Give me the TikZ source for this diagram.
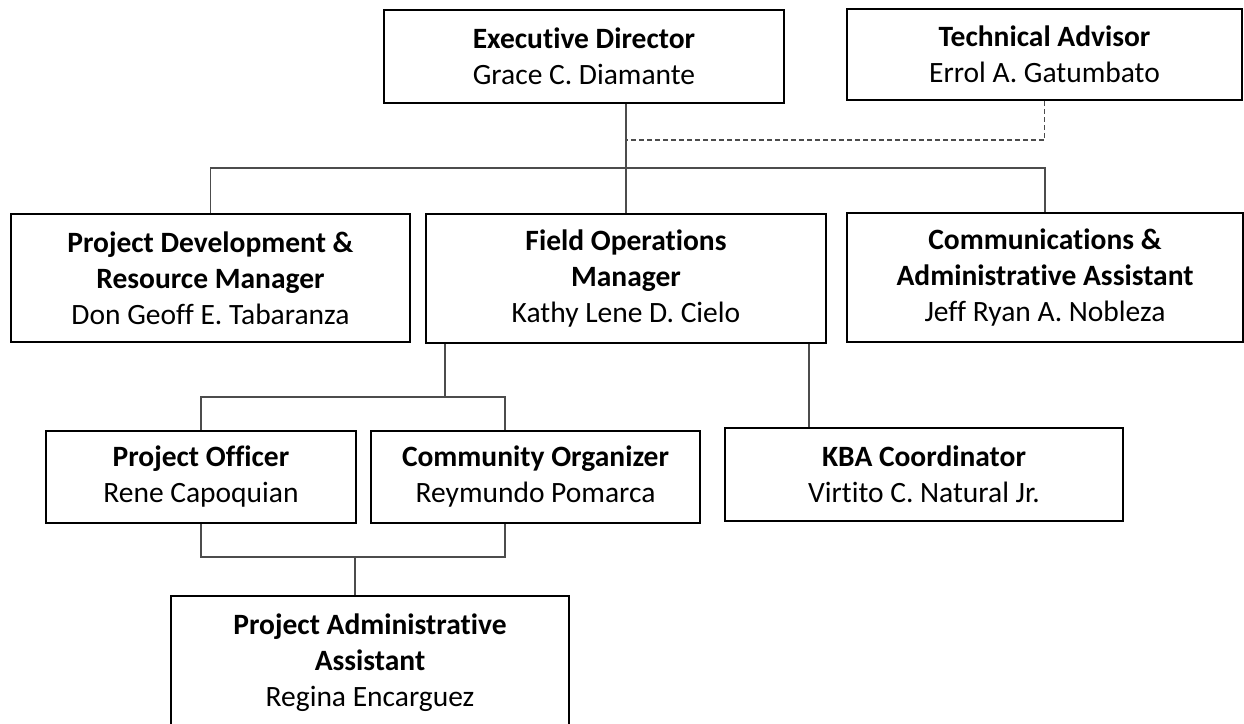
\documentclass[tikz,border=0pt]{standalone}
\usepackage{fontspec}
\setmainfont{Carlito}[Ligatures=NoCommon]
\usetikzlibrary{calc}

\tikzset{
  post/.style={draw, line width=2pt, align=center, inner sep=0pt,
    font=\fontsize{29.5}{36}\selectfont},
  link/.style={draw=black!70, line width=1.2pt},
}
\newcommand{\role}[2]{\textbf{#1}\\#2}

\begin{document}
\begin{tikzpicture}[x=1pt,y=-1pt]
\useasboundingbox (0,0) rectangle (1244,723);
\clip (0,0) rectangle (1244,723);

% top
\node[post, minimum width=400, minimum height=93] (ED) at (584,56.5)
  {\role{Executive Director}{Grace C. Diamante}};
\node[post, minimum width=395, minimum height=91] (TA) at (1044.5,54.5)
  {\role{Technical Advisor}{Errol A. Gatumbato}};

% managers
\node[post, minimum width=399, minimum height=128] (PD) at (210.5,278)
  {\textbf{Project Development \&}\\\role{Resource Manager}{Don Geoff E. Tabaranza}};
\node[post, minimum width=400, minimum height=129] (FO) at (626,278.5)
  {\textbf{Field Operations}\\\role{Manager}{Kathy Lene D. Cielo}};
\node[post, minimum width=396, minimum height=129] (CA) at (1045,277.5)
  {\textbf{Communications \&}\\\role{Administrative Assistant}{Jeff Ryan A. Nobleza}};

% field staff
\node[post, minimum width=310, minimum height=92] (PO) at (201,477)
  {\role{Project Officer}{Rene Capoquian}};
\node[post, minimum width=329, minimum height=92] (CO) at (535.5,477)
  {\role{Community Organizer}{Reymundo Pomarca}};
\node[post, minimum width=398, minimum height=93] (KBA) at (924,474.5)
  {\role{KBA Coordinator}{Virtito C. Natural Jr.}};
\node[post, minimum width=398, minimum height=134] (PAA) at (370,663)
  {\textbf{Project Administrative}\\\role{Assistant}{Regina Encarguez}};

% junctions
\coordinate (bus) at (0,168);
\coordinate (dash) at (0,140);
\coordinate (b1) at (445,397);
\coordinate (c1) at (505,397);
\coordinate (c2) at (505,557);
\coordinate (b2) at (355,557);
\coordinate (k) at (809,0);

\draw[link] (ED.south -| FO.north) -- (FO.north);
\draw[link] (PD.north) -- (PD.north |- bus) -- (CA.north |- bus) -- (CA.north);
\draw[link, dash pattern=on 5pt off 3pt] (TA.south) -- (TA.south |- dash) -- (dash -| FO.north);

\draw[link] (FO.south -| b1) -- (b1);
\draw[link] (PO.north) |- (c1) -- (c1 |- CO.north);
\draw[link] (FO.south -| k) -- (KBA.north -| k);

\draw[link] (PO.south) |- (c2) -- (c2 |- CO.south);
\draw[link] (b2) -- (b2 |- PAA.north);

\end{tikzpicture}
\end{document}
